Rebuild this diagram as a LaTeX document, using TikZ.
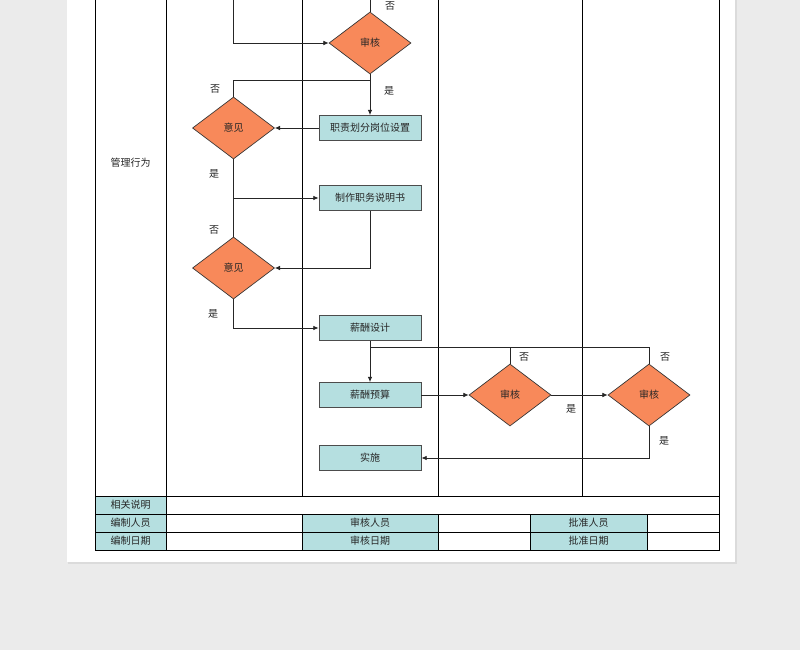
\documentclass[tikz,border=0pt]{standalone}
\usepackage{fontspec}
\newfontfamily\cjk{Noto Sans CJK SC}
\usetikzlibrary{shapes.geometric,arrows.meta}
\definecolor{dorange}{HTML}{F8895A}
\definecolor{lteal}{HTML}{B5DFE0}
\definecolor{bggray}{HTML}{EBEBEB}
\begin{document}
\begin{tikzpicture}[x=0.75pt,y=-0.75pt,
  every node/.style={font=\cjk\fontsize{7.5pt}{9pt}\selectfont, text=black!85},
  dia/.style={diamond, draw=black!80, line width=0.5pt, fill=dorange, minimum width=61.5pt, minimum height=46.5pt, inner sep=0pt},
  box/.style={rectangle, draw=black!70, line width=0.6pt, fill=lteal, minimum width=76.5pt, minimum height=18.75pt, inner sep=0pt},
  conn/.style={draw=black!85, line width=0.6pt},
  arr/.style={conn, -{Latex[length=4pt,width=3.5pt]}},
  grid/.style={draw=black, line width=0.7pt},
  lbl/.style={inner sep=0pt},
]
\useasboundingbox (0,0) rectangle (800,650);
\fill[bggray] (0,0) rectangle (800,650);
\fill[black!14] (68,-5) rectangle (737,564);
\fill[white] (67,-5) rectangle (735,562);
% teal cells
\fill[lteal] (95,496) rectangle (166,550);
\fill[lteal] (302,514) rectangle (438,550);
\fill[lteal] (530,514) rectangle (647,550);
% grid
\draw[grid] (95,0) -- (95,550) -- (719,550) -- (719,0);
\draw[grid] (166,0) -- (166,550);
\draw[grid] (302,0) -- (302,496);
\draw[grid] (438,0) -- (438,496);
\draw[grid] (582,0) -- (582,496);
\draw[grid] (95,496) -- (719,496);
\draw[grid] (95,514) -- (719,514);
\draw[grid] (95,532) -- (719,532);
\draw[grid] (302,514) -- (302,550);
\draw[grid] (438,514) -- (438,550);
\draw[grid] (530,514) -- (530,550);
\draw[grid] (647,514) -- (647,550);
% table texts
\node (t0) at (130.5,163) {管理行为};
\node (t1) at (130.5,505) {相关说明};
\node (t2) at (130.5,523) {编制人员};
\node (t3) at (130.5,541) {编制日期};
\node (t4) at (370,523) {审核人员};
\node (t5) at (370,541) {审核日期};
\node (t6) at (588.5,523) {批准人员};
\node (t7) at (588.5,541) {批准日期};
% flow nodes
\node[dia] (sh1) at (370,43) {审核};
\node[box] (b1) at (370,128) {职责划分岗位设置};
\node[dia] (yj1) at (233.5,128) {意见};
\node[box] (b2) at (370,198) {制作职务说明书};
\node[dia] (yj2) at (233.5,268) {意见};
\node[box] (b3) at (370,328) {薪酬设计};
\node[box] (b4) at (370,395) {薪酬预算};
\node[dia] (sh2) at (510,395) {审核};
\node[dia] (sh3) at (649,395) {审核};
\node[box] (b5) at (370,458) {实施};
% coordinates
\coordinate (in1) at (233.5,0);
\coordinate (top1) at (370,0);
\coordinate (j1) at (370,80);
\coordinate (j2) at (233.5,198);
\coordinate (j3) at (370,347);
% connectors
\draw[arr] (in1) |- (sh1.west);
\draw[conn] (top1) -- (sh1.north);
\draw[arr] (sh1.south) -- (b1.north);
\draw[conn] (yj1.north) |- (j1);
\draw[arr] (b1.west) -- (yj1.east);
\draw[conn] (yj1.south) -- (j2);
\draw[conn] (yj2.north) -- (j2);
\draw[arr] (j2) -- (b2.west);
\draw[arr] (b2.south) |- (yj2.east);
\draw[arr] (yj2.south) |- (b3.west);
\draw[arr] (b3.south) -- (b4.north);
\draw[conn] (sh2.north) |- (j3);
\draw[conn] (sh3.north) |- (j3);
\draw[arr] (b4.east) -- (sh2.west);
\draw[arr] (sh2.east) -- (sh3.west);
\draw[arr] (sh3.south) |- (b5.east);
% labels
\node[lbl] (l1) at (390,6) {否};
\node[lbl] (l2) at (389,91) {是};
\node[lbl] (l3) at (215,89) {否};
\node[lbl] (l4) at (214,174) {是};
\node[lbl] (l5) at (214,230) {否};
\node[lbl] (l6) at (213,314) {是};
\node[lbl] (l7) at (524,357) {否};
\node[lbl] (l8) at (665,357) {否};
\node[lbl] (l9) at (571,409) {是};
\node[lbl] (l10) at (664,441) {是};
\end{tikzpicture}
\end{document}
